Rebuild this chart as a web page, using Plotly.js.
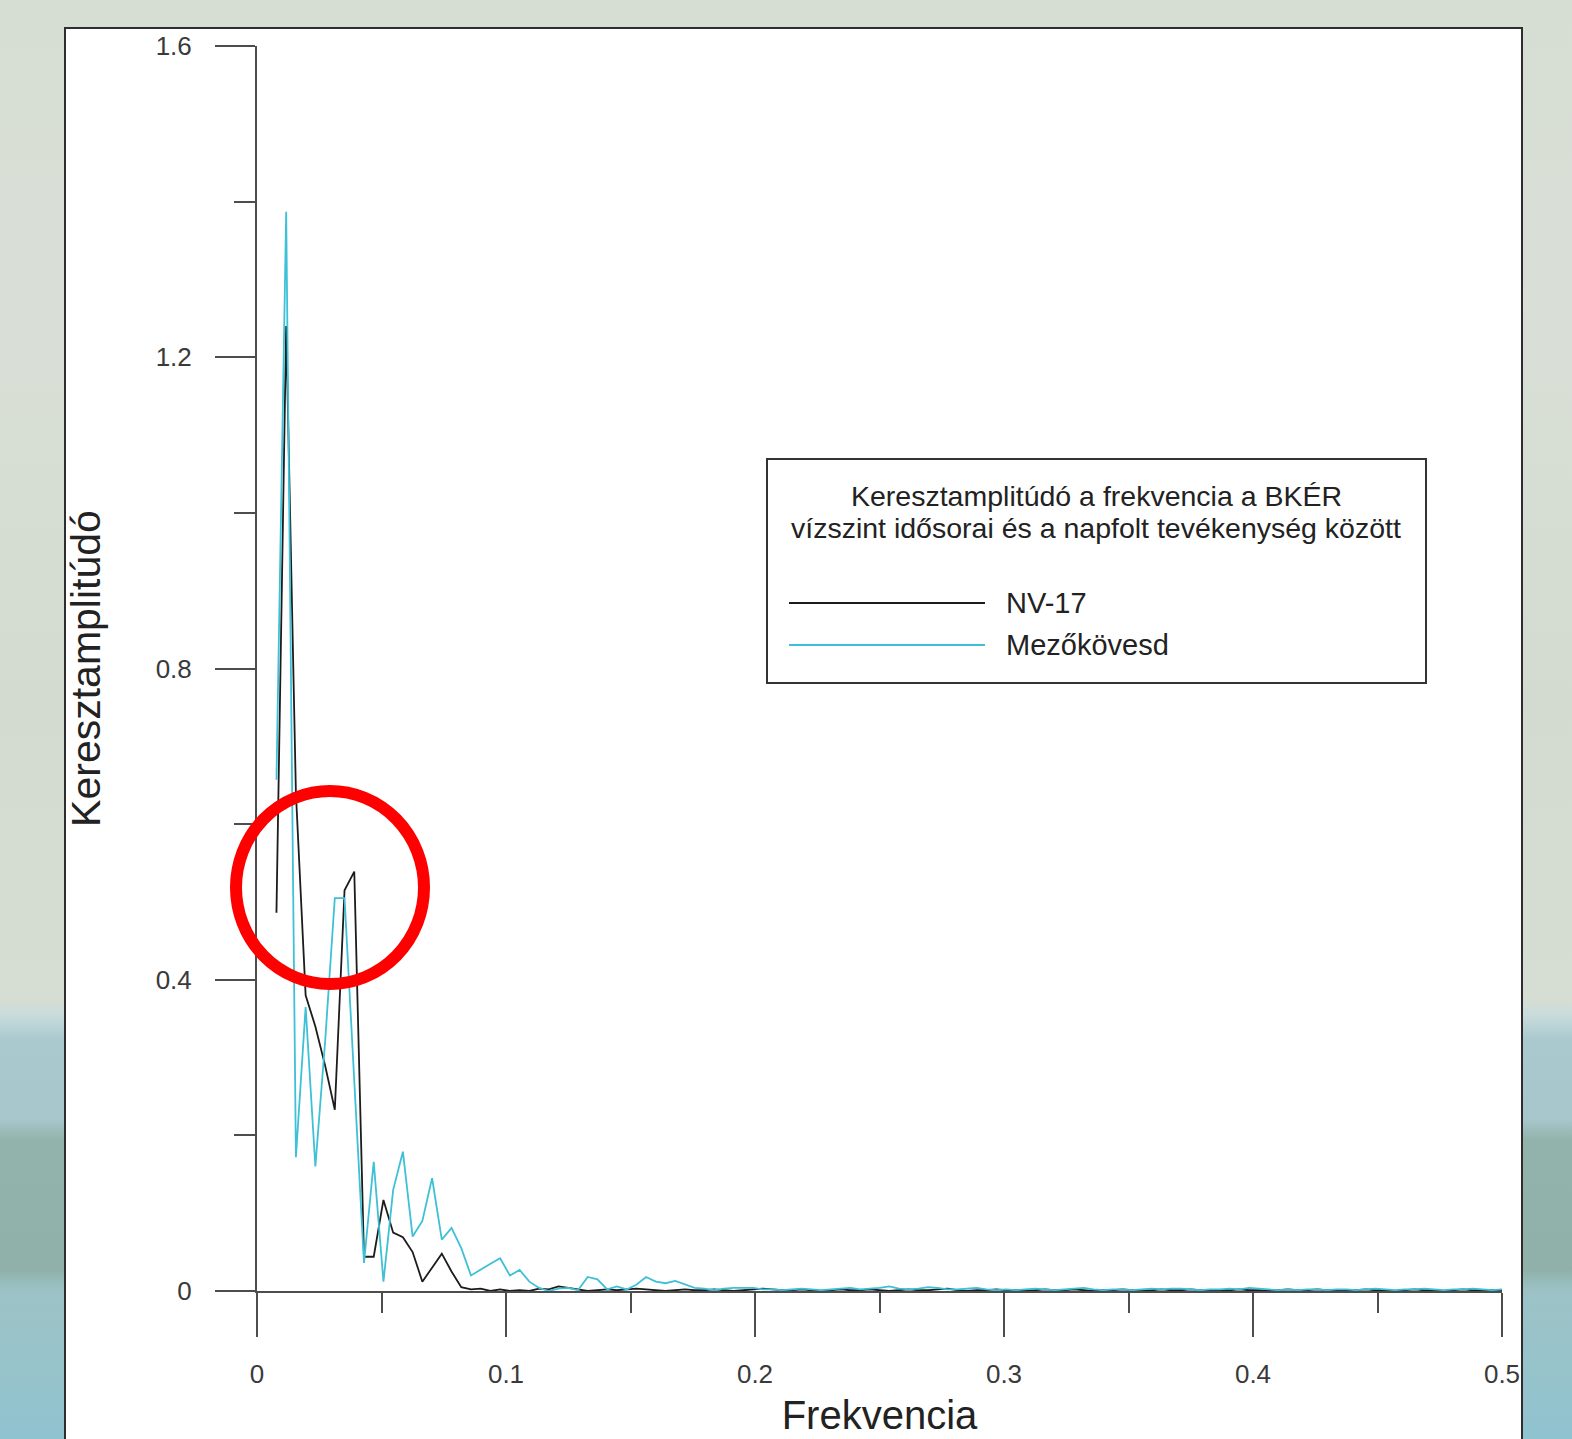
<!DOCTYPE html>
<html>
<head>
<meta charset="utf-8">
<script src="https://cdn.plot.ly/plotly-3.0.1.min.js"></script>
<style>
  html, body { margin: 0; padding: 0; }
  body {
    width: 1572px; height: 1439px; overflow: hidden;
    background: linear-gradient(to bottom,
      #d6ddd3 0px, #d9dfd6 300px, #d3dbd0 700px, #d6ddd2 1000px,
      #c9dcdc 1015px, #a9c9cf 1040px, #a6c6cb 1120px,
      #92b3ab 1140px, #8fb1a9 1270px, #9cc2c6 1290px,
      #96c3cb 1380px, #8fc3d0 1439px);
  }
  #chart { width: 1572px; height: 1439px; }
</style>
</head>
<body>
<div id="chart"></div>
<script>
// Frequency grid: first sample and step (cycles per sample)
const freqStart = 0.0078125;
const freqStep = 0.00390625;

// NV-17 cross-amplitude (black)
const nv17 = [
  0.486, 1.24, 0.64, 0.38, 0.34, 0.29, 0.233, 0.515, 0.539, 0.044,
  0.044, 0.117, 0.075, 0.069, 0.050, 0.012, 0.030, 0.048, 0.025, 0.005,
  0.002, 0.003, 0.000, 0.002, 0.000, 0.001, 0.000, 0.003, 0.002, 0.006,
  0.004, 0.002, 0.000, 0.001, 0.002,
  0.001, 0.002, 0.003, 0.002, 0.001, 0.000, 0.001, 0.002, 0.001, 0.001,
  0.002, 0.001, 0.000, 0.001, 0.002, 0.003, 0.002, 0.001, 0.001, 0.002,
  0.001, 0.000, 0.001, 0.002, 0.001, 0.001, 0.002, 0.001, 0.000, 0.001,
  0.002, 0.001, 0.001, 0.002, 0.003, 0.001, 0.000, 0.001, 0.001, 0.002,
  0.001, 0.001, 0.000, 0.001, 0.002, 0.001, 0.001, 0.002, 0.001, 0.000,
  0.001, 0.001, 0.002, 0.001, 0.000, 0.001, 0.002, 0.001, 0.001, 0.002,
  0.001, 0.000, 0.001, 0.001, 0.002, 0.001, 0.001, 0.000, 0.001, 0.002,
  0.001, 0.001, 0.002, 0.001, 0.000, 0.001, 0.001, 0.002, 0.001, 0.001,
  0.000, 0.001, 0.002, 0.001, 0.001, 0.000, 0.001, 0.002, 0.001, 0.001,
  0.001, 0.001
];

// Mezőkövesd cross-amplitude (cyan)
const mezokovesd = [
  0.657, 1.387, 0.172, 0.365, 0.16, 0.32, 0.505, 0.505, 0.27, 0.036,
  0.166, 0.012, 0.13, 0.179, 0.07, 0.09, 0.145, 0.066, 0.081, 0.055,
  0.02, 0.028, 0.035, 0.042, 0.02, 0.027, 0.012, 0.004, 0.0, 0.003,
  0.004, 0.001, 0.018, 0.015, 0.002, 0.006, 0.002, 0.008, 0.018, 0.012,
  0.010, 0.013, 0.009, 0.004, 0.003, 0.001, 0.003, 0.004, 0.004, 0.004,
  0.002,
  0.002, 0.001, 0.002, 0.003, 0.002, 0.001, 0.002, 0.003,
  0.004, 0.002, 0.003, 0.004, 0.006, 0.003, 0.002, 0.003,
  0.005, 0.004, 0.002, 0.002, 0.003, 0.004, 0.002, 0.001,
  0.002, 0.001, 0.002, 0.003, 0.002, 0.001, 0.002, 0.003,
  0.004, 0.002, 0.001, 0.002, 0.002, 0.001, 0.002, 0.003,
  0.002, 0.003, 0.003, 0.002, 0.001, 0.002, 0.002, 0.003,
  0.002, 0.004, 0.003, 0.002, 0.001, 0.002, 0.001, 0.002,
  0.002, 0.001, 0.002, 0.002, 0.001, 0.002, 0.003, 0.002,
  0.001, 0.002, 0.002, 0.003, 0.002, 0.001, 0.002, 0.002,
  0.003, 0.002, 0.001, 0.002
];

const seriesNames = ['NV-17', 'Mezőkövesd'];
const legendTitle = ['Keresztamplitúdó a frekvencia a BKÉR', 'vízszint idősorai és a napfolt tevékenység között'];
const xTitle = 'Frekvencia';
const yTitle = 'Keresztamplitúdó';

const FONT = '"Liberation Sans", Arial, Helvetica, sans-serif';
const BLACK = '#1c1c1c';
const CYAN = '#3ec0d6';
const AX = '#4d4d4d';

const traces = [
  { type: 'scatter', mode: 'lines', name: seriesNames[0], y: nv17, x0: freqStart, dx: freqStep,
    line: { color: BLACK, width: 1.8 }, showlegend: false },
  { type: 'scatter', mode: 'lines', name: seriesNames[1], y: mezokovesd, x0: freqStart, dx: freqStep,
    line: { color: CYAN, width: 1.8 }, showlegend: false }
];

// pixel -> paper helpers for the plot area (l=257, r=1502, t=46, b=1291)
const px = v => (v - 257) / 1245;
const py = v => (1291 - v) / 1245;

const layout = {
  width: 1572, height: 1439,
  margin: { l: 257, r: 70, t: 46, b: 148 },
  paper_bgcolor: 'rgba(0,0,0,0)',
  plot_bgcolor: 'rgba(0,0,0,0)',
  font: { family: FONT, color: '#333' },
  showlegend: false,
  xaxis: {
    range: [0, 0.5], dtick: 0.1, tick0: 0,
    showline: true, linecolor: AX, linewidth: 2, zeroline: false, showgrid: false,
    ticks: 'outside', ticklen: 44, tickwidth: 2, tickcolor: AX,
    minor: { dtick: 0.05, ticks: 'outside', ticklen: 20, tickwidth: 2, tickcolor: AX, showgrid: false },
    tickfont: { family: FONT, size: 26, color: '#3a3a3a' },
    ticklabelstandoff: 15,
    title: { text: xTitle, font: { family: FONT, size: 40, color: '#222' }, standoff: 13 }
  },
  yaxis: {
    range: [0, 1.6], dtick: 0.4, tick0: 0,
    showline: true, linecolor: AX, linewidth: 2, zeroline: false, showgrid: false,
    ticks: 'outside', ticklen: 40, tickwidth: 2, tickcolor: AX,
    minor: { dtick: 0.2, ticks: 'outside', ticklen: 21, tickwidth: 2, tickcolor: AX, showgrid: false },
    tickfont: { family: FONT, size: 26, color: '#3a3a3a' },
    ticklabelstandoff: 18,
    title: { text: yTitle, font: { family: FONT, size: 41, color: '#222' }, standoff: 42 }
  },
  shapes: [
    // white panel with frame
    { type: 'rect', xref: 'paper', yref: 'paper', layer: 'below',
      x0: px(65), x1: px(1522), y0: py(1460), y1: py(28),
      fillcolor: '#ffffff', line: { color: '#2e2e2e', width: 2 } },
    // legend box
    { type: 'rect', xref: 'paper', yref: 'paper', layer: 'above',
      x0: px(767), x1: px(1426), y0: py(683), y1: py(459),
      fillcolor: 'rgba(255,255,255,0)', line: { color: '#333', width: 2 } },
    { type: 'line', xref: 'paper', yref: 'paper', x0: px(789), x1: px(985), y0: py(603), y1: py(603),
      line: { color: BLACK, width: 2 } },
    { type: 'line', xref: 'paper', yref: 'paper', x0: px(789), x1: px(985), y0: py(645), y1: py(645),
      line: { color: CYAN, width: 2 } },
    // red highlight circle
    { type: 'circle', xref: 'paper', yref: 'paper', layer: 'above',
      x0: px(236), x1: px(424), y0: py(984), y1: py(791),
      line: { color: '#ff0000', width: 12 } }
  ],
  annotations: [
    { xref: 'paper', yref: 'paper', x: px(1096), y: py(496), text: legendTitle[0], showarrow: false,
      xanchor: 'center', yanchor: 'middle', font: { family: FONT, size: 28.5, color: '#222' } },
    { xref: 'paper', yref: 'paper', x: px(1096), y: py(528), text: legendTitle[1], showarrow: false,
      xanchor: 'center', yanchor: 'middle', font: { family: FONT, size: 28.5, color: '#222' } },
    { xref: 'paper', yref: 'paper', x: px(1004), y: py(603), text: seriesNames[0], showarrow: false,
      xanchor: 'left', yanchor: 'middle', font: { family: FONT, size: 29, color: '#222' } },
    { xref: 'paper', yref: 'paper', x: px(1004), y: py(645), text: seriesNames[1], showarrow: false,
      xanchor: 'left', yanchor: 'middle', font: { family: FONT, size: 29, color: '#222' } }
  ]
};

Plotly.newPlot('chart', traces, layout, { displayModeBar: false, responsive: false, staticPlot: true });
</script>
</body>
</html>
